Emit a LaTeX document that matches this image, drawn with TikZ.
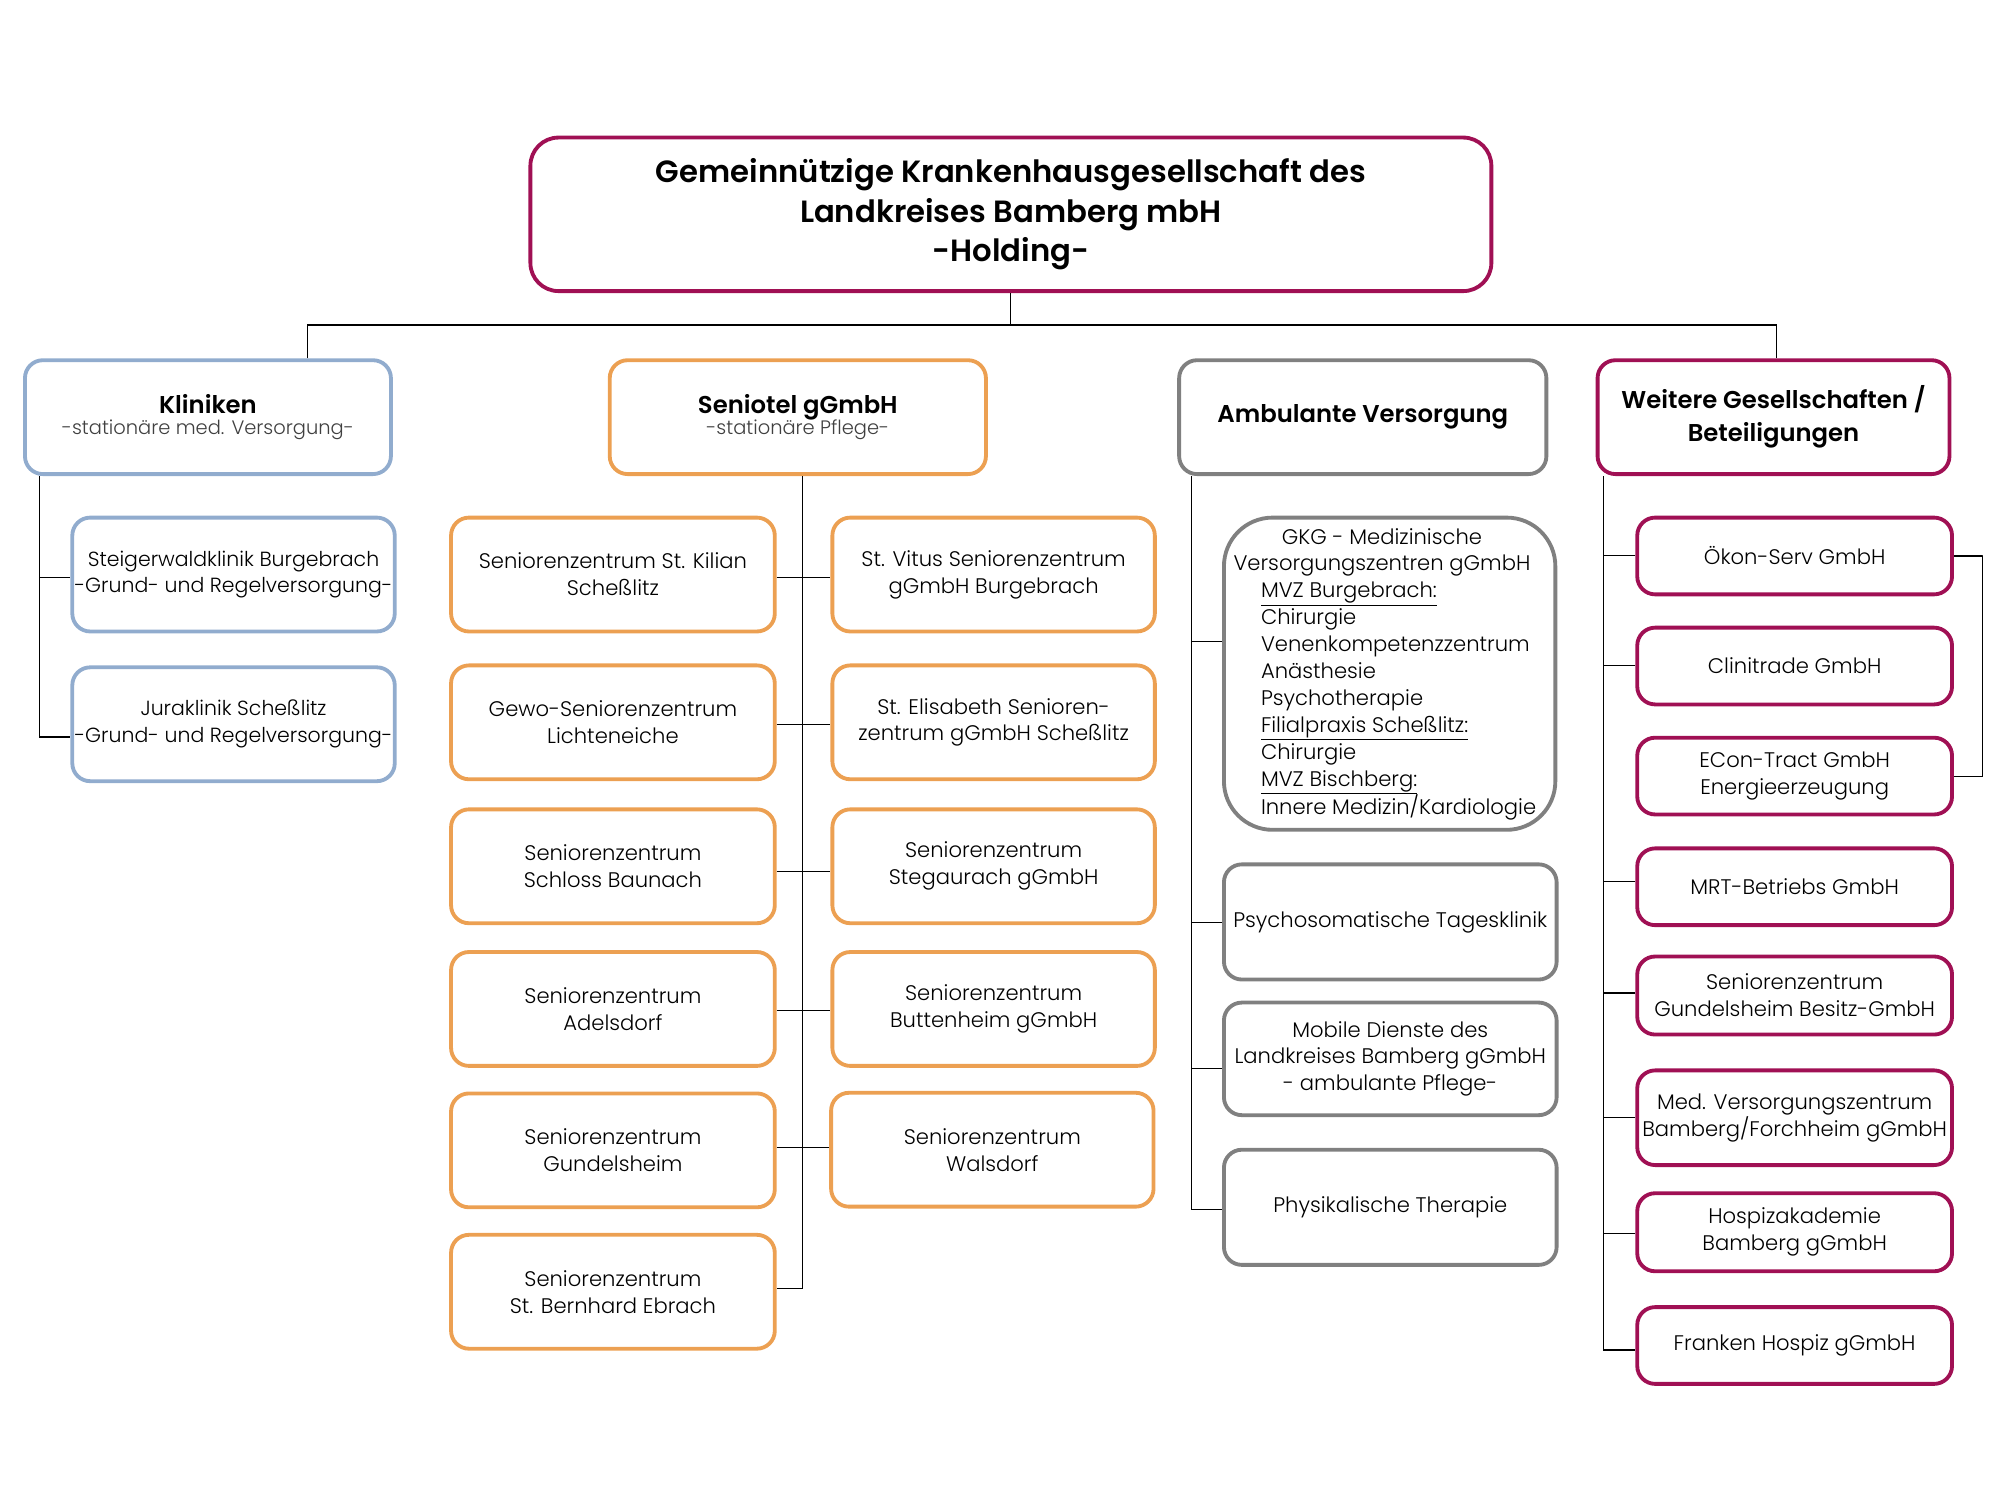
\documentclass[tikz,border=0pt]{standalone}
\usepackage{fontspec}
\setmainfont{Poppins}[UprightFont=* Light, BoldFont=* SemiBold]
\usetikzlibrary{calc}
\definecolor{crim}{RGB}{160,16,84}
\definecolor{kblue}{RGB}{145,172,206}
\definecolor{sorange}{RGB}{236,160,82}
\definecolor{agrey}{RGB}{128,128,128}
\newcommand{\bodyfont}{\fontsize{16.5}{21}\selectfont}
\newcommand{\headfont}{\fontsize{19}{26}\selectfont\bfseries}
\newcommand{\subfont}{\fontsize{15.2}{19}\selectfont}
\newcommand{\holdfont}{\fontsize{24}{31}\selectfont\bfseries}
\tikzset{
  box/.style={draw, line width=3pt, rounded corners=14pt, align=center, inner sep=1pt, fill=white, font=\bodyfont},
  klbox/.style={box, draw=kblue},
  snbox/.style={box, draw=sorange},
  ambox/.style={box, draw=agrey},
  wgbox/.style={box, draw=crim},
  conn/.style={draw=black, line width=0.9pt}
}
\begin{document}
\begin{tikzpicture}[x=1pt,y=-1pt]
\useasboundingbox (0,0) rectangle (1563,1172);
\coordinate (bus) at (790,254);
\coordinate (kltr) at (31,372);
\coordinate (sntr) at (627,372);
\coordinate (amtr) at (931,372);
\coordinate (wgtr) at (1253,372);
\coordinate (okr) at (1549,434);

% Holding
\node[box, draw=crim, rounded corners=22pt, font=\holdfont, minimum width=751pt, minimum height=120pt] (hold) at (790,167.5)
  {Gemeinnützige Krankenhausgesellschaft des\\Landkreises Bamberg mbH\\-Holding-};

% headers
\node[klbox, minimum width=286pt, minimum height=89pt] (kl) at (162.5,326)
  {{\headfont Kliniken}\\[-4pt]{\subfont\color{black!75}-stationäre med. Versorgung-}};
\node[snbox, minimum width=294pt, minimum height=89pt] (sn) at (623.5,326)
  {{\headfont Seniotel gGmbH}\\[-4pt]{\subfont\color{black!75}-stationäre Pflege-}};
\node[ambox, font=\headfont, minimum width=287pt, minimum height=89pt] (am) at (1065,326)
  {Ambulante Versorgung};
\node[wgbox, font=\headfont, minimum width=275pt, minimum height=89pt] (wg) at (1386,326)
  {Weitere Gesellschaften /\\Beteiligungen};

% bus
\draw[conn] (hold.south) -- (bus);
\draw[conn] (kl.north -| 240,0) |- (bus) -| (wg.north -| 1388,0);
\draw[conn] (sn.north -| 627,0) -- (sn.north -| 627,254);
\draw[conn] (am.north -| 1067,0) -- (am.north -| 1067,254);

% Kliniken children
\node[klbox, inner sep=0pt, font=\fontsize{16}{21}\selectfont, minimum width=252pt, minimum height=89pt] (k1) at (182.5,449)
  {Steigerwaldklinik Burgebrach\\-Grund- und Regelversorgung-};
\node[klbox, inner sep=0pt, font=\fontsize{16}{21}\selectfont, minimum width=252pt, minimum height=89pt] (k2) at (182.5,566)
  {Juraklinik Scheßlitz\\-Grund- und Regelversorgung-};
\draw[conn] (kl.south -| kltr) |- (k1.west |- 0,451);
\draw[conn] (kl.south -| kltr) |- (k2.west |- 0,576);

% Seniotel children
\node[snbox, minimum width=253pt, minimum height=89pt] (s1) at (479,449) {Seniorenzentrum St. Kilian\\Scheßlitz};
\node[snbox, minimum width=253pt, minimum height=89pt] (s2) at (479,564.5) {Gewo-Seniorenzentrum\\Lichteneiche};
\node[snbox, minimum width=253pt, minimum height=89pt] (s3) at (479,677) {Seniorenzentrum\\Schloss Baunach};
\node[snbox, minimum width=253pt, minimum height=89pt] (s4) at (479,788.5) {Seniorenzentrum\\Adelsdorf};
\node[snbox, minimum width=253pt, minimum height=89pt] (s5) at (479,899) {Seniorenzentrum\\Gundelsheim};
\node[snbox, minimum width=253pt, minimum height=89pt] (s6) at (479,1009.5) {Seniorenzentrum\\St. Bernhard Ebrach};
\node[snbox, minimum width=252pt, minimum height=89pt] (r1) at (776.5,449) {St. Vitus Seniorenzentrum\\gGmbH Burgebrach};
\node[snbox, minimum width=252pt, minimum height=89pt] (r2) at (776.5,564.5) {St. Elisabeth Senioren-\\zentrum gGmbH Scheßlitz};
\node[snbox, minimum width=252pt, minimum height=89pt] (r3) at (776.5,677) {Seniorenzentrum\\Stegaurach gGmbH};
\node[snbox, minimum width=252pt, minimum height=89pt] (r4) at (776.5,788.5) {Seniorenzentrum\\Buttenheim gGmbH};
\node[snbox, minimum width=252pt, minimum height=89pt] (r5) at (775.5,898.5) {Seniorenzentrum\\Walsdorf};
\draw[conn] (sn.south -| sntr) |- (s6.east |- 0,1007);
\draw[conn] (s1.east |- 0,451) -- (r1.west |- 0,451);
\draw[conn] (s2.east |- 0,566) -- (r2.west |- 0,566);
\draw[conn] (s3.east |- 0,681) -- (r3.west |- 0,681);
\draw[conn] (s4.east |- 0,790) -- (r4.west |- 0,790);
\draw[conn] (s5.east |- 0,897) -- (r5.west |- 0,897);

% Ambulante children
\node[ambox, rounded corners=38pt, minimum width=259pt, minimum height=244pt] (a1) at (1086,526.5)
  {\hspace{14pt}\begin{tabular}{@{}l@{}}
   \multicolumn{1}{@{\hspace{-26pt}}c@{}}{GKG - Medizinische}\\
   \multicolumn{1}{@{\hspace{-26pt}}c@{}}{Versorgungszentren gGmbH}\\
   \underline{MVZ Burgebrach:}\\
   Chirurgie\\
   Venenkompetenzzentrum\\
   Anästhesie\\
   Psychotherapie\\
   \underline{Filialpraxis Scheßlitz:}\\
   Chirurgie\\
   \underline{MVZ Bischberg:}\\
   Innere Medizin/Kardiologie
   \end{tabular}};
\node[ambox, minimum width=260pt, minimum height=90pt] (a2) at (1086.5,720.5) {Psychosomatische Tagesklinik};
\node[ambox, minimum width=260pt, minimum height=88pt] (a3) at (1086.5,827.5) {Mobile Dienste des\\Landkreises Bamberg gGmbH\\- ambulante Pflege-};
\node[ambox, minimum width=260pt, minimum height=90pt] (a4) at (1086.5,943.5) {Physikalische Therapie};
\draw[conn] (am.south -| amtr) |- (a4.west |- 0,945);
\draw[conn] (a1.west |- 0,501) -- (amtr |- 0,501);
\draw[conn] (a2.west |- 0,721) -- (amtr |- 0,721);
\draw[conn] (a3.west |- 0,835) -- (amtr |- 0,835);

% Weitere children
\node[wgbox, minimum width=246pt, minimum height=60pt] (w1) at (1402.5,434.5) {Ökon-Serv GmbH};
\node[wgbox, minimum width=246pt, minimum height=60pt] (w2) at (1402.5,520.5) {Clinitrade GmbH};
\node[wgbox, minimum width=246pt, minimum height=60pt] (w3) at (1402.5,606.5) {ECon-Tract GmbH\\Energieerzeugung};
\node[wgbox, minimum width=246pt, minimum height=60pt] (w4) at (1402.5,693) {MRT-Betriebs GmbH};
\node[wgbox, minimum width=246pt, minimum height=61pt] (w5) at (1402.5,778) {Seniorenzentrum\\Gundelsheim Besitz-GmbH};
\node[wgbox, minimum width=246pt, minimum height=74pt] (w6) at (1402.5,873.5) {Med. Versorgungszentrum\\Bamberg/Forchheim gGmbH};
\node[wgbox, minimum width=246pt, minimum height=61pt] (w7) at (1402.5,963) {Hospizakademie\\Bamberg gGmbH};
\node[wgbox, minimum width=246pt, minimum height=60pt] (w8) at (1402.5,1051.5) {Franken Hospiz gGmbH};
\draw[conn] (wg.south -| wgtr) |- (w8.west |- 0,1055);
\draw[conn] (w1.west |- 0,434) -- (wgtr |- 0,434);
\draw[conn] (w2.west |- 0,520) -- (wgtr |- 0,520);
\draw[conn] (w4.west |- 0,689) -- (wgtr |- 0,689);
\draw[conn] (w5.west |- 0,776) -- (wgtr |- 0,776);
\draw[conn] (w6.west |- 0,873) -- (wgtr |- 0,873);
\draw[conn] (w7.west |- 0,964) -- (wgtr |- 0,964);
\draw[conn] (w1.east) -| (okr) |- (w3.east);
\end{tikzpicture}
\end{document}
